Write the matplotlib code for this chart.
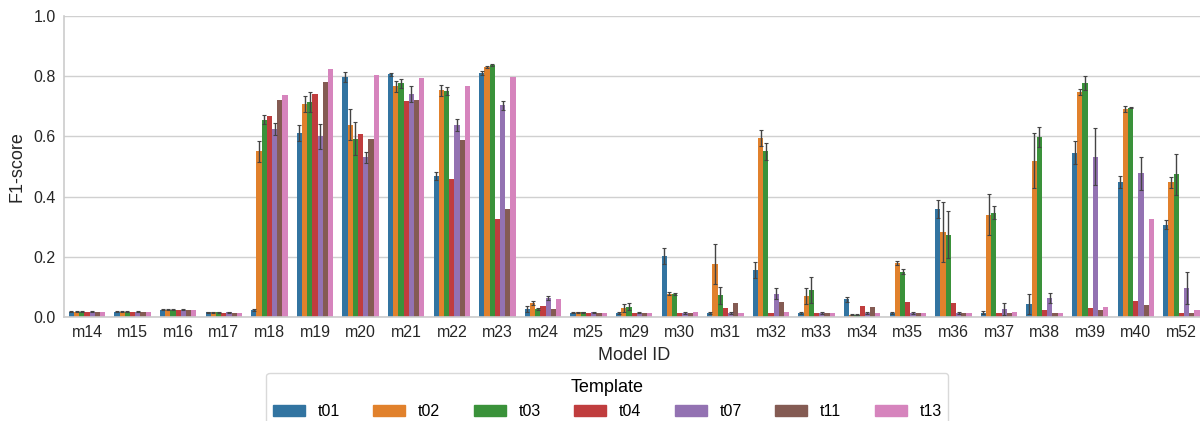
import matplotlib
matplotlib.use("Agg")
import matplotlib.pyplot as plt
import matplotlib.patches as mpatches
import numpy as np

plt.rcParams["font.family"] = ["Liberation Sans", "DejaVu Sans"]

MODELS = ["m14", "m15", "m16", "m17", "m18", "m19", "m20", "m21", "m22", "m23",
          "m24", "m25", "m29", "m30", "m31", "m32", "m33", "m34", "m35", "m36",
          "m37", "m38", "m39", "m40", "m52"]
TEMPLATES = ["t01", "t02", "t03", "t04", "t07", "t11", "t13"]
COLORS = ["#3274A1", "#E1812C", "#3A923A", "#C03D3E", "#9372B2", "#845B53", "#D684BD"]

# F1 score per model, one column per template (t01 .. t13)
f1_scores = {
    "m14": [0.018, 0.018, 0.018, 0.015, 0.018, 0.015, 0.015],
    "m15": [0.017, 0.017, 0.017, 0.015, 0.017, 0.015, 0.015],
    "m16": [0.024, 0.024, 0.024, 0.022, 0.024, 0.022, 0.022],
    "m17": [0.016, 0.016, 0.016, 0.014, 0.016, 0.014, 0.014],
    "m18": [0.022, 0.551, 0.656, 0.667, 0.626, 0.720, 0.736],
    "m19": [0.612, 0.707, 0.713, 0.742, 0.600, 0.780, 0.824],
    "m20": [0.797, 0.639, 0.592, 0.609, 0.530, 0.593, 0.803],
    "m21": [0.806, 0.767, 0.777, 0.719, 0.741, 0.720, 0.794],
    "m22": [0.469, 0.753, 0.750, 0.458, 0.637, 0.587, 0.767],
    "m23": [0.810, 0.831, 0.836, 0.327, 0.703, 0.358, 0.799],
    "m24": [0.026, 0.047, 0.027, 0.036, 0.062, 0.026, 0.059],
    "m25": [0.014, 0.015, 0.015, 0.013, 0.015, 0.013, 0.013],
    "m29": [0.013, 0.029, 0.034, 0.013, 0.014, 0.013, 0.013],
    "m30": [0.203, 0.078, 0.076, 0.012, 0.013, 0.012, 0.016],
    "m31": [0.013, 0.176, 0.072, 0.029, 0.013, 0.046, 0.012],
    "m32": [0.156, 0.594, 0.550, 0.013, 0.078, 0.049, 0.016],
    "m33": [0.013, 0.070, 0.089, 0.012, 0.013, 0.012, 0.012],
    "m34": [0.059, 0.008, 0.008, 0.037, 0.013, 0.032, 0.012],
    "m35": [0.013, 0.180, 0.151, 0.049, 0.013, 0.012, 0.012],
    "m36": [0.359, 0.283, 0.274, 0.046, 0.013, 0.013, 0.012],
    "m37": [0.014, 0.340, 0.347, 0.012, 0.026, 0.012, 0.016],
    "m38": [0.042, 0.519, 0.598, 0.022, 0.063, 0.012, 0.012],
    "m39": [0.546, 0.746, 0.777, 0.030, 0.533, 0.022, 0.033],
    "m40": [0.448, 0.690, 0.696, 0.052, 0.477, 0.040, 0.324],
    "m52": [0.307, 0.447, 0.474, 0.012, 0.097, 0.012, 0.023],
}

# half-width of the confidence interval (0 = single run, no bar drawn)
f1_err = {
    "m14": [0.002, 0.002, 0.002, 0, 0.002, 0, 0],
    "m15": [0.002, 0.002, 0.002, 0, 0.002, 0, 0],
    "m16": [0.002, 0.002, 0.002, 0, 0.002, 0, 0],
    "m17": [0.002, 0.002, 0.002, 0, 0.002, 0, 0],
    "m18": [0.003, 0.035, 0.015, 0, 0.020, 0, 0],
    "m19": [0.027, 0.026, 0.033, 0, 0.042, 0, 0],
    "m20": [0.017, 0.052, 0.055, 0, 0.018, 0, 0],
    "m21": [0.005, 0.018, 0.015, 0, 0.028, 0, 0],
    "m22": [0.013, 0.018, 0.013, 0, 0.020, 0, 0],
    "m23": [0.006, 0.004, 0.003, 0, 0.014, 0, 0],
    "m24": [0.010, 0.006, 0.003, 0, 0.007, 0, 0],
    "m25": [0.002, 0.002, 0.002, 0, 0.002, 0, 0],
    "m29": [0.003, 0.014, 0.011, 0, 0.002, 0, 0],
    "m30": [0.026, 0.005, 0.003, 0, 0.002, 0, 0],
    "m31": [0.002, 0.066, 0.029, 0, 0.002, 0, 0],
    "m32": [0.027, 0.026, 0.029, 0, 0.017, 0, 0],
    "m33": [0.002, 0.028, 0.044, 0, 0.002, 0, 0],
    "m34": [0.008, 0.002, 0.002, 0, 0.002, 0, 0],
    "m35": [0.002, 0.007, 0.008, 0, 0.002, 0, 0],
    "m36": [0.030, 0.099, 0.077, 0, 0.002, 0, 0],
    "m37": [0.005, 0.067, 0.023, 0, 0.019, 0, 0],
    "m38": [0.033, 0.091, 0.033, 0, 0.018, 0, 0],
    "m39": [0.039, 0.010, 0.024, 0, 0.094, 0, 0],
    "m40": [0.020, 0.010, 0.003, 0, 0.056, 0, 0],
    "m52": [0.016, 0.018, 0.068, 0, 0.054, 0, 0],
}

vals = np.array([f1_scores[m] for m in MODELS])
errs = np.array([f1_err[m] for m in MODELS])

fig = plt.figure(figsize=(12, 4.21), dpi=100)
ax = fig.add_axes([0.0535, 0.247, 0.95, 0.715])

n_t = len(TEMPLATES)
width = 0.8 / n_t
x = np.arange(len(MODELS))

for j, (t, c) in enumerate(zip(TEMPLATES, COLORS)):
    pos = x - 0.4 + width * (j + 0.5)
    ax.bar(pos, vals[:, j], width=width, color=c, edgecolor="none", zorder=2)
    mask = errs[:, j] > 0
    ax.errorbar(pos[mask], vals[mask, j], yerr=errs[mask, j], fmt="none",
                ecolor="#444444", elinewidth=1.0, capsize=1.2, capthick=0.8,
                zorder=3)

ax.set_xlim(-0.5, len(MODELS) - 0.5)
ax.set_ylim(0, 1.0)
ax.set_yticks([0, 0.2, 0.4, 0.6, 0.8, 1.0])
ax.set_yticklabels(["0.0", "0.2", "0.4", "0.6", "0.8", "1.0"])
ax.set_xticks(x)
ax.set_xticklabels(MODELS)
ax.tick_params(length=0, labelsize=11.5, colors="#262626", pad=6)
ax.set_xlabel("Model ID", fontsize=13, color="#262626", labelpad=5)
ax.set_ylabel("F1-score", fontsize=13, color="#262626", labelpad=6)

ax.grid(axis="y", color="#d0d0d0", linewidth=1.0, zorder=0)
ax.set_axisbelow(True)
for side in ("top", "right"):
    ax.spines[side].set_visible(False)
for side in ("left", "bottom"):
    ax.spines[side].set_color("#cccccc")
    ax.spines[side].set_linewidth(1.2)

handles = [mpatches.Patch(color=c, label=t) for t, c in zip(TEMPLATES, COLORS)]
leg = fig.legend(handles=handles, title="Template", ncol=n_t, loc="upper center",
                 bbox_to_anchor=(0.506, 0.133), fontsize=11.5, title_fontsize=13,
                 columnspacing=2.1, frameon=True, edgecolor="#d0d0d0",
                 fancybox=True)

fig.savefig("out.png", dpi=100)
